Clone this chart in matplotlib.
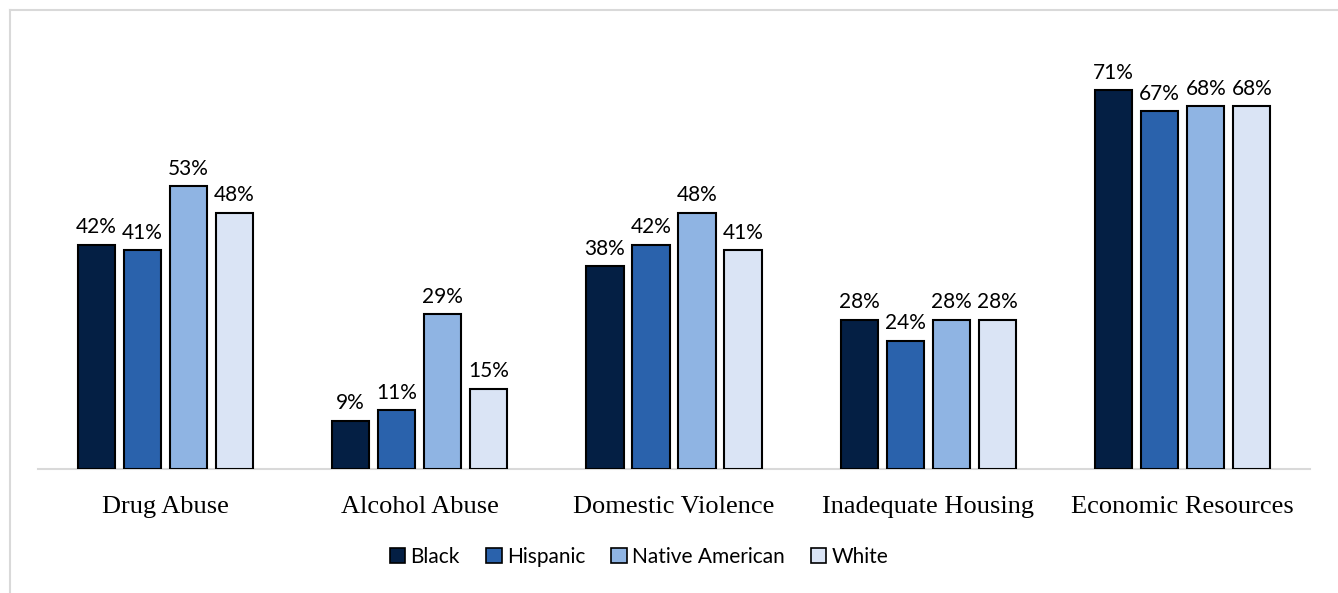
import matplotlib.pyplot as plt
from matplotlib.lines import Line2D
import numpy as np

# Kategorijos ir reikšmės (procentais)
categories = ['Drug Abuse', 'Alcohol Abuse', 'Domestic Violence', 'Inadequate Housing', 'Economic Resources']
groups = ['Black', 'Hispanic', 'Native American', 'White']
black = [42, 9, 38, 28, 71]
hispanic = [41, 11, 42, 24, 67]
native = [53, 29, 48, 28, 68]
white = [48, 15, 41, 28, 68]
colors = ['#041f44', '#2a62ac', '#8fb4e3', '#dae4f5']

series = [black, hispanic, native, white]

fig = plt.figure(figsize=(13.38, 5.93), dpi=100)
ax = fig.add_axes([38 / 1338, 124 / 593, 1272 / 1338, 427 / 593])

x = np.arange(len(categories))
width = 0.146
step = 0.181
for i, (vals, col) in enumerate(zip(series, colors)):
    pos = x + (i - 1.5) * step
    bars = ax.bar(pos, vals, width, color=col, edgecolor='black', linewidth=1.5,
                  label=groups[i], zorder=3)
    for b, v in zip(bars, vals):
        ax.text(b.get_x() + b.get_width() / 2, v + 1.4, f'{v}%', ha='center', va='bottom',
                fontsize=15, family=['Lato', 'DejaVu Sans'], color='black')

ax.set_xlim(-0.5, len(categories) - 0.5)
ax.set_ylim(0, 80)
ax.set_yticks([])
ax.set_xticks(x)
ax.set_xticklabels(categories, family='Liberation Serif', fontsize=19)
ax.tick_params(axis='x', length=0, pad=19.5)
for s in ['top', 'right', 'left']:
    ax.spines[s].set_visible(False)
ax.spines['bottom'].set_color('#d9d9d9')
ax.spines['bottom'].set_linewidth(1.5)
ax.spines['bottom'].set_zorder(2)

handles = [plt.Rectangle((0, 0), 1, 1, facecolor=c, edgecolor='black', linewidth=1.2) for c in colors]
fig.legend(handles, groups, loc='center', bbox_to_anchor=(639 / 1338, 1 - 557 / 593), ncol=4,
           frameon=False, prop={'family': ['Lato', 'DejaVu Sans'], 'size': 15},
           handlelength=0.75, handleheight=0.75, handletextpad=0.25, columnspacing=1.25)

# Rėmelis aplink paveikslą (tik viršus ir kairė)
fig.add_artist(Line2D([10 / 1338, 10 / 1338], [0, 1 - 10 / 593], transform=fig.transFigure,
                      color='#d9d9d9', linewidth=1.5))
fig.add_artist(Line2D([10 / 1338, 1], [1 - 10 / 593, 1 - 10 / 593], transform=fig.transFigure,
                      color='#d9d9d9', linewidth=1.5))

fig.savefig('out.png', dpi=100, facecolor='white')
